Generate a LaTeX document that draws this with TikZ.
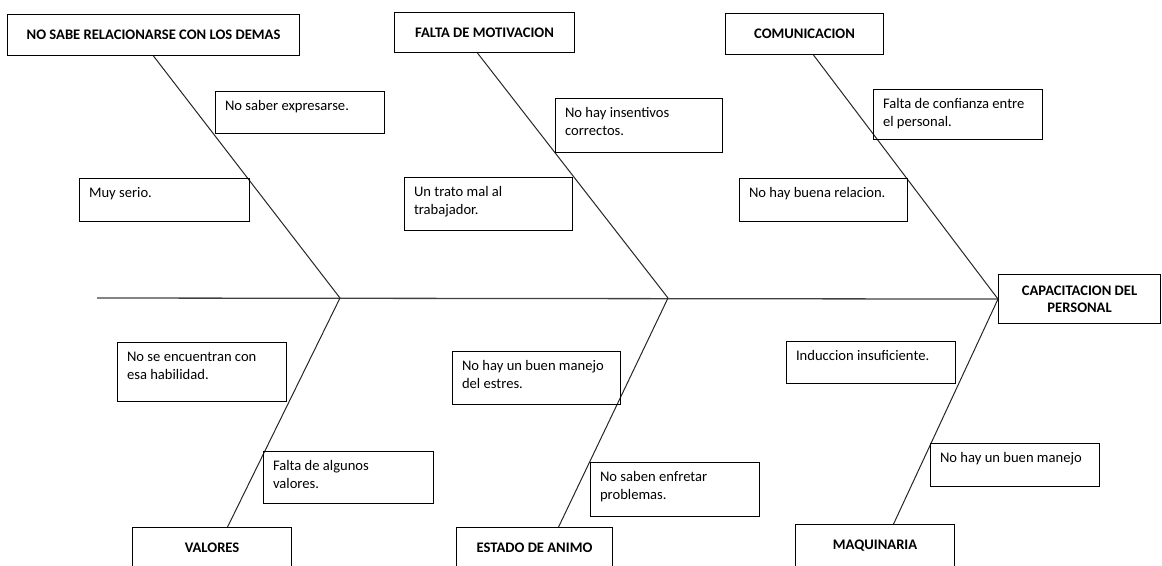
\documentclass[tikz,border=0pt]{standalone}
\usepackage{fontspec}
\setmainfont{Carlito}
\tikzset{
  bodyfont/.style={font=\fontsize{14.6}{17.5}\selectfont},
  titlebox/.style={draw=black, line width=1.1pt, anchor=north west, inner sep=0pt,
    align=center, bodyfont, font=\fontsize{14.6}{17.5}\selectfont\bfseries},
  footbox/.style={titlebox, text height=25pt, text depth=18pt},
  causebox/.style={draw=black, line width=1.1pt, anchor=north west,
    inner xsep=9.5pt, inner ysep=7pt, bodyfont},
  bone/.style={draw=black!85, line width=1pt},
  spine/.style={draw=black!75, line width=1.3pt}
}
% cause box: name, x, y, width, height, text
\newcommand\causenode[6]{%
  \node[causebox] (#1) at (#2,#3)
    {\parbox[t][\dimexpr#5pt-14pt\relax][t]{\dimexpr#4pt-19pt\relax}{\raggedright\strut #6}};}
\begin{document}
\begin{tikzpicture}[x=1pt,y=-1pt]
\useasboundingbox (0,0) rectangle (1162,565);

% effect
\node[titlebox, minimum width=162pt, minimum height=49pt] (cap) at (998,274)
  {CAPACITACION DEL\\PERSONAL};

% main categories
\node[titlebox, minimum width=292pt, minimum height=41pt] (t1) at (7,14) {NO SABE RELACIONARSE CON LOS DEMAS};
\node[titlebox, minimum width=180pt, minimum height=40pt] (t2) at (394,12) {FALTA DE MOTIVACION};
\node[titlebox, minimum width=158pt, minimum height=41pt] (t3) at (725,13) {COMUNICACION};
\node[footbox, minimum width=159pt] (b1) at (132,527) {VALORES};
\node[footbox, minimum width=156pt] (b2) at (456,527) {ESTADO DE ANIMO};
\node[footbox, minimum width=159pt] (b3) at (795,524) {MAQUINARIA};

% spine and bones
\coordinate (tail) at (97,298);
\coordinate (j1) at (340,298);
\coordinate (j2) at (668,298);
\draw[spine] (tail) -- (cap.west);
\draw[bone] (t1.south) -- (j1);
\draw[bone] ([xshift=-7pt]t2.south) -- (j2);
\draw[bone] ([xshift=9pt]t3.south) -- (cap.west);
\draw[bone] (j1) -- ([xshift=15.5pt]b1.north);
\draw[bone] (j2) -- ([xshift=24pt]b2.north);
\draw[bone] (cap.west) -- ([xshift=18.5pt]b3.north);

% causes
\causenode{c1}{215}{91}{169}{42}{No saber expresarse.}
\causenode{c2}{79}{178}{170}{43}{Muy serio.}
\causenode{c3}{555}{98}{167}{54}{No hay insentivos\\correctos.}
\causenode{c4}{404}{177}{168}{53}{Un trato mal al\\trabajador.}
\causenode{c5}{873}{89}{169}{50}{Falta de confianza entre\\el personal.}
\causenode{c6}{739}{178}{168}{43}{No hay buena relacion.}
\causenode{c7}{117}{342}{169}{59}{No se encuentran con\\esa habilidad.}
\causenode{c8}{263}{451}{170}{52}{Falta de algunos\\valores.}
\causenode{c9}{452}{351}{168}{53}{No hay un buen manejo\\del estres.}
\causenode{c10}{590}{462}{169}{54}{No saben enfretar\\problemas.}
\causenode{c11}{786}{341}{169}{42}{Induccion insuficiente.}
\causenode{c12}{930}{443}{169}{43}{No hay un buen manejo}
\end{tikzpicture}
\end{document}
